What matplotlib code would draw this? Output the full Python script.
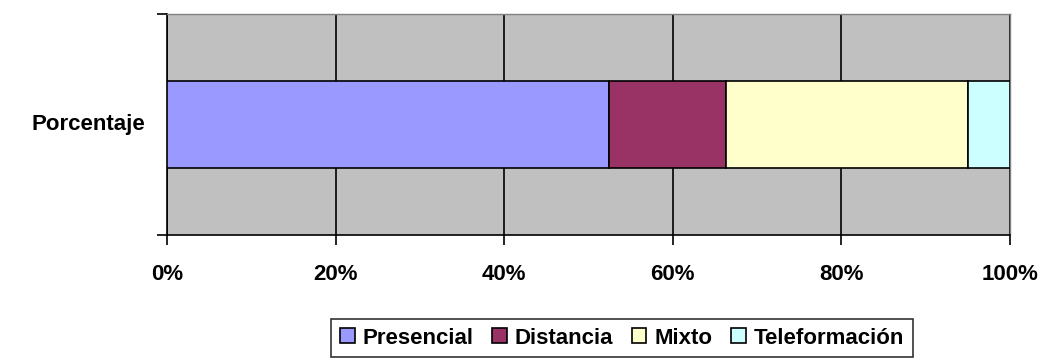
import matplotlib.pyplot as plt
from matplotlib.ticker import PercentFormatter

plt.rcParams['font.family'] = ['Liberation Sans', 'DejaVu Sans']

category = ['Porcentaje']
series = ['Presencial', 'Distancia', 'Mixto', 'Teleformación']
values = [52.4, 13.9, 28.7, 5.0]
colors = ['#9999FF', '#993366', '#FFFFCC', '#CCFFFF']

fig = plt.figure(figsize=(10.46, 3.62), dpi=100)
ax = fig.add_axes([167 / 1046, 1 - 235 / 362, 843 / 1046, 221 / 362])
ax.set_facecolor('#C0C0C0')

left = 0
for name, val, col in zip(series, values, colors):
    ax.barh(0, val, left=left, height=0.39, color=col, edgecolor='black',
            linewidth=1.2, label=name, zorder=3)
    left += val

ax.set_xlim(0, 100)
ax.set_ylim(-0.5, 0.5)
ax.set_xticks(range(0, 101, 20))
ax.xaxis.set_major_formatter(PercentFormatter(decimals=0))
ax.grid(axis='x', color='black', linewidth=1.2, zorder=1)
ax.set_axisbelow(True)

ax.set_yticks([-0.5, 0.5])
ax.set_yticklabels(['', ''])
ax.text(-2.6, 0, category[0], ha='right', va='center', fontsize=16,
        fontweight='bold', transform=ax.transData)

ax.tick_params(axis='both', direction='out', length=7, width=1.2, color='black')
ax.tick_params(axis='x', labelsize=16, pad=14)
for lbl in ax.get_xticklabels():
    lbl.set_fontweight('bold')

for side in ['left', 'bottom']:
    ax.spines[side].set_color('black')
    ax.spines[side].set_linewidth(1.2)
for side in ['top', 'right']:
    ax.spines[side].set_color('#808080')
    ax.spines[side].set_linewidth(1.0)

leg = fig.legend(loc='center', bbox_to_anchor=(622 / 1046, 1 - 338 / 362), ncol=4,
                 frameon=True, fancybox=False, edgecolor='black',
                 prop={'weight': 'bold', 'size': 16}, handlelength=0.65,
                 handleheight=0.65, handletextpad=0.35, columnspacing=0.85,
                 borderpad=0.4, borderaxespad=0)
leg.get_frame().set_linewidth(1.2)

fig.savefig('out.png', dpi=100)
